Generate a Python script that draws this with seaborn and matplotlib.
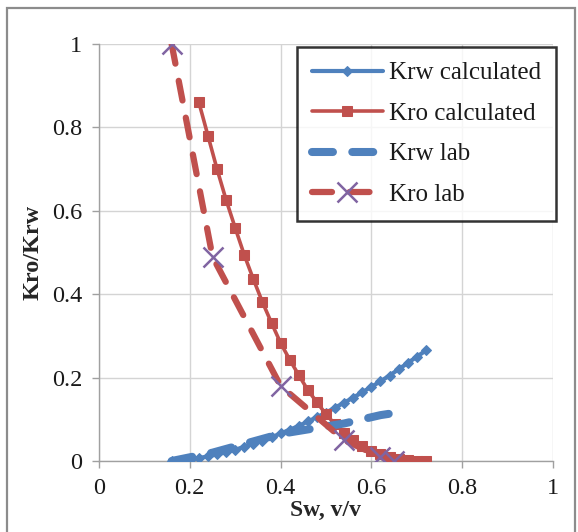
import numpy as np
import pandas as pd
import matplotlib
matplotlib.use("Agg")
import matplotlib.pyplot as plt
import seaborn as sns
from matplotlib.patches import Rectangle

# ---- data ----
sw_krw_calc = [0.16, 0.18, 0.20, 0.22, 0.24, 0.26, 0.28, 0.30, 0.32, 0.34, 0.36, 0.38,
               0.40, 0.42, 0.44, 0.46, 0.48, 0.50, 0.52, 0.54, 0.56, 0.58, 0.60, 0.62,
               0.64, 0.66, 0.68, 0.70, 0.72]
krw_calc = [0.000, 0.001, 0.003, 0.007, 0.011, 0.016, 0.021, 0.027, 0.034, 0.041, 0.048, 0.057,
            0.066, 0.075, 0.084, 0.095, 0.105, 0.116, 0.128, 0.140, 0.152, 0.165, 0.178, 0.191,
            0.205, 0.220, 0.235, 0.250, 0.265]

sw_kro_calc = [0.22, 0.24, 0.26, 0.28, 0.30, 0.32, 0.34, 0.36, 0.38, 0.40, 0.42, 0.44, 0.46,
               0.48, 0.50, 0.52, 0.54, 0.56, 0.58, 0.60, 0.62, 0.64, 0.66, 0.68, 0.70, 0.72]
kro_calc = [0.86, 0.78, 0.70, 0.626, 0.559, 0.494, 0.436, 0.381, 0.331, 0.283, 0.243, 0.206, 0.170,
            0.141, 0.112, 0.088, 0.068, 0.050, 0.036, 0.025, 0.016, 0.010, 0.005, 0.003, 0.001, 0.000]

sw_lab = [0.16, 0.25, 0.40, 0.54, 0.62, 0.65]
krw_lab = [0.0, 0.02, 0.065, 0.09, 0.11, 0.115]
kro_lab = [1.0, 0.49, 0.18, 0.05, 0.01, 0.0]

x_ticks = [0, 0.2, 0.4, 0.6, 0.8, 1]
x_tick_labels = ["0", "0.2", "0.4", "0.6", "0.8", "1"]
y_ticks = [0, 0.2, 0.4, 0.6, 0.8, 1]
y_tick_labels = ["0", "0.2", "0.4", "0.6", "0.8", "1"]

BLUE = "#4F81BD"
RED = "#C0504D"
PURPLE = "#8064A2"

sns.set_theme(style="white")
plt.rcParams["font.family"] = ["Liberation Serif", "DejaVu Serif"]

fig = plt.figure(figsize=(5.78, 5.32), dpi=100)
ax = fig.add_axes([99 / 578, (532 - 461) / 532, 454 / 578, 417 / 532])

# outer chart frame
fig.patches.append(Rectangle((7 / 578, -0.05), (575 - 7) / 578, (532 - 8) / 532 + 0.05,
                             transform=fig.transFigure, fill=False,
                             edgecolor="#8c8c8c", linewidth=1.6, zorder=0))

df1 = pd.DataFrame({"Sw": sw_krw_calc, "K": krw_calc})
df2 = pd.DataFrame({"Sw": sw_kro_calc, "K": kro_calc})
df3 = pd.DataFrame({"Sw": sw_lab, "K": krw_lab})
df4 = pd.DataFrame({"Sw": sw_lab, "K": kro_lab})

sns.lineplot(data=df1, x="Sw", y="K", ax=ax, sort=False, estimator=None,
             color=BLUE, linewidth=3.0, marker="D", markersize=5.5,
             markeredgecolor=BLUE, label="Krw calculated", zorder=3)
sns.lineplot(data=df2, x="Sw", y="K", ax=ax, sort=False, estimator=None,
             color=RED, linewidth=2.6, marker="s", markersize=7.5,
             markeredgecolor=RED, label="Kro calculated", zorder=4)
sns.lineplot(data=df3, x="Sw", y="K", ax=ax, sort=False, estimator=None,
             color=BLUE, linewidth=5.8, linestyle=(0, (2.6, 2.4)),
             dash_capstyle="round", label="Krw lab", zorder=5)
sns.lineplot(data=df4, x="Sw", y="K", ax=ax, sort=False, estimator=None,
             color=RED, linewidth=4.5, linestyle=(0, (3.2, 2.8)),
             dash_capstyle="round", marker="x", markersize=15,
             markeredgecolor=PURPLE, markeredgewidth=1.8,
             label="Kro lab", zorder=6)

ax.set_xlim(0, 1)
ax.set_ylim(0, 1)
ax.set_xticks(x_ticks)
ax.set_xticklabels(x_tick_labels)
ax.set_yticks(y_ticks)
ax.set_yticklabels(y_tick_labels)
ax.grid(True, color="#d4d4d4", linewidth=1.0)
ax.set_axisbelow(True)
for s in ["top", "right"]:
    ax.spines[s].set_visible(False)
for s in ["left", "bottom"]:
    ax.spines[s].set_color("#a0a0a0")
    ax.spines[s].set_linewidth(1.0)
ax.tick_params(axis="both", which="both", direction="out", length=5, width=1.0,
               color="#a0a0a0", labelsize=17.5, pad=7, labelcolor="#1a1a1a",
               bottom=True, left=True)

ax.set_xlabel("Sw, v/v", fontsize=17, fontweight="bold", labelpad=1)
ax.set_ylabel("Kro/Krw", fontsize=17.5, fontweight="bold", labelpad=6)

leg = ax.legend(loc="upper right", bbox_to_anchor=(1.007, 0.993), fontsize=18,
                frameon=True, fancybox=False, edgecolor="black",
                handlelength=2.85, labelspacing=0.72, handletextpad=0.25,
                borderpad=0.6, borderaxespad=0)
leg.get_frame().set_linewidth(1.8)
for t in leg.get_texts():
    t.set_color("#1a1a1a")

fig.savefig("out.png", dpi=100)
